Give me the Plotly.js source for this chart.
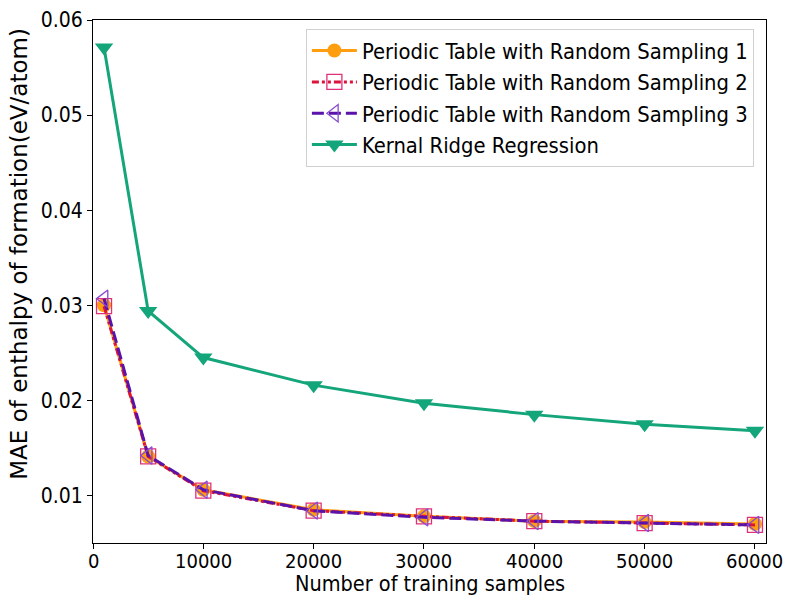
<!DOCTYPE html>
<html>
<head>
<meta charset="utf-8">
<script src="https://cdn.plot.ly/plotly-3.0.1.min.js"></script>
<style>html,body{margin:0;padding:0;background:#fff;}#chart{width:789px;height:596px;}</style>
</head>
<body>
<div id="chart"></div>
<script>
const samples = [1000, 5000, 10000, 20000, 30000, 40000, 50000, 60000];
const periodic1 = [0.0300, 0.0141, 0.0106, 0.0085, 0.0078, 0.0073, 0.0072, 0.0070];
const periodic2 = [0.0299, 0.0141, 0.0105, 0.0084, 0.0078, 0.0073, 0.0071, 0.0069];
const periodic3 = [0.0307, 0.0142, 0.0106, 0.0084, 0.0077, 0.0073, 0.0071, 0.0069];
const krr = [0.0571, 0.0294, 0.0245, 0.0216, 0.0197, 0.0185, 0.0175, 0.0168];
const seriesNames = [
  'Periodic Table with Random Sampling 1',
  'Periodic Table with Random Sampling 2',
  'Periodic Table with Random Sampling 3',
  'Kernal Ridge Regression'
];
const xTicks = [0, 10000, 20000, 30000, 40000, 50000, 60000];
const xTickText = ['0', '10000', '20000', '30000', '40000', '50000', '60000'];
const yTicks = [0.01, 0.02, 0.03, 0.04, 0.05, 0.06];
const yTickText = ['0.01', '0.02', '0.03', '0.04', '0.05', '0.06'];
const xTitle = 'Number of training samples';
const yTitle = 'MAE of enthalpy of formation(eV/atom)';

const traces = [
  {x: samples, y: periodic1, name: seriesNames[0], mode: 'lines+markers',
   line: {color: '#ff9f10', width: 3},
   marker: {symbol: 'circle', size: 14, color: '#ff9f10'}},
  {x: samples, y: periodic2, name: seriesNames[1], mode: 'lines+markers',
   line: {color: '#dc143c', width: 3, dash: '7px,3px,3px,3px,3px,3px'},
   marker: {symbol: 'square-open', size: 15, color: '#e0307a', line: {width: 1.3}}},
  {x: samples, y: periodic3, name: seriesNames[2], mode: 'lines+markers',
   line: {color: '#5a12aa', width: 3, dash: '12px,5px'},
   marker: {symbol: 'triangle-left-open', size: 15, color: '#8a4cd0', line: {width: 1.3}}},
  {x: samples, y: krr, name: seriesNames[3], mode: 'lines+markers',
   line: {color: '#14a57a', width: 3},
   marker: {symbol: 'triangle-down', size: 16, color: '#14a57a'}}
];

const cond = {family: 'DejaVu Sans Condensed, DejaVu Sans, sans-serif', color: '#000'};
const norm = {family: 'DejaVu Sans, sans-serif', color: '#000'};

const annotations = xTickText.map((t, i) => ({
  text: t, xref: 'x', yref: 'paper', x: xTicks[i], y: 0, yshift: -5,
  xanchor: 'center', yanchor: 'top', showarrow: false, borderpad: 0,
  font: Object.assign({size: 20}, cond)
}));
annotations.push(
  {text: xTitle, xref: 'paper', yref: 'paper', x: 0.5, y: -0.0765,
   xanchor: 'center', yanchor: 'middle', showarrow: false, borderpad: 0,
   font: Object.assign({size: 21.5}, cond)},
  {text: yTitle, xref: 'paper', yref: 'paper', x: -0.11, y: 0.553,
   xanchor: 'center', yanchor: 'middle', showarrow: false, textangle: -90,
   font: Object.assign({size: 23}, norm)}
);

const layout = {
  width: 789, height: 596,
  margin: {l: 93, r: 23, t: 20, b: 53},
  paper_bgcolor: '#fff', plot_bgcolor: '#fff',
  font: Object.assign({size: 20}, cond),
  showlegend: true,
  legend: {
    x: 0.982, y: 0.983, xanchor: 'right', yanchor: 'top',
    bgcolor: 'rgba(255,255,255,0.9)', bordercolor: '#d0d0d0', borderwidth: 1,
    font: Object.assign({size: 21.8}, cond),
    itemwidth: 45,
    tracegroupgap: 0
  },
  xaxis: {
    range: [0, 61000], tickvals: xTicks, showticklabels: false,
    showgrid: false, zeroline: false, showline: true, linecolor: '#000', linewidth: 1,
    mirror: true, ticks: 'outside', ticklen: 5, tickcolor: '#000'
  },
  yaxis: {
    range: [0.005, 0.06], tickvals: yTicks, ticktext: yTickText,
    showgrid: false, zeroline: false, showline: true, linecolor: '#000', linewidth: 1,
    mirror: true, ticks: 'outside', ticklen: 5, tickcolor: '#000',
    tickfont: Object.assign({size: 21}, cond)
  },
  annotations: annotations
};

Plotly.newPlot('chart', traces, layout, {displayModeBar: false});
</script>
</body>
</html>
